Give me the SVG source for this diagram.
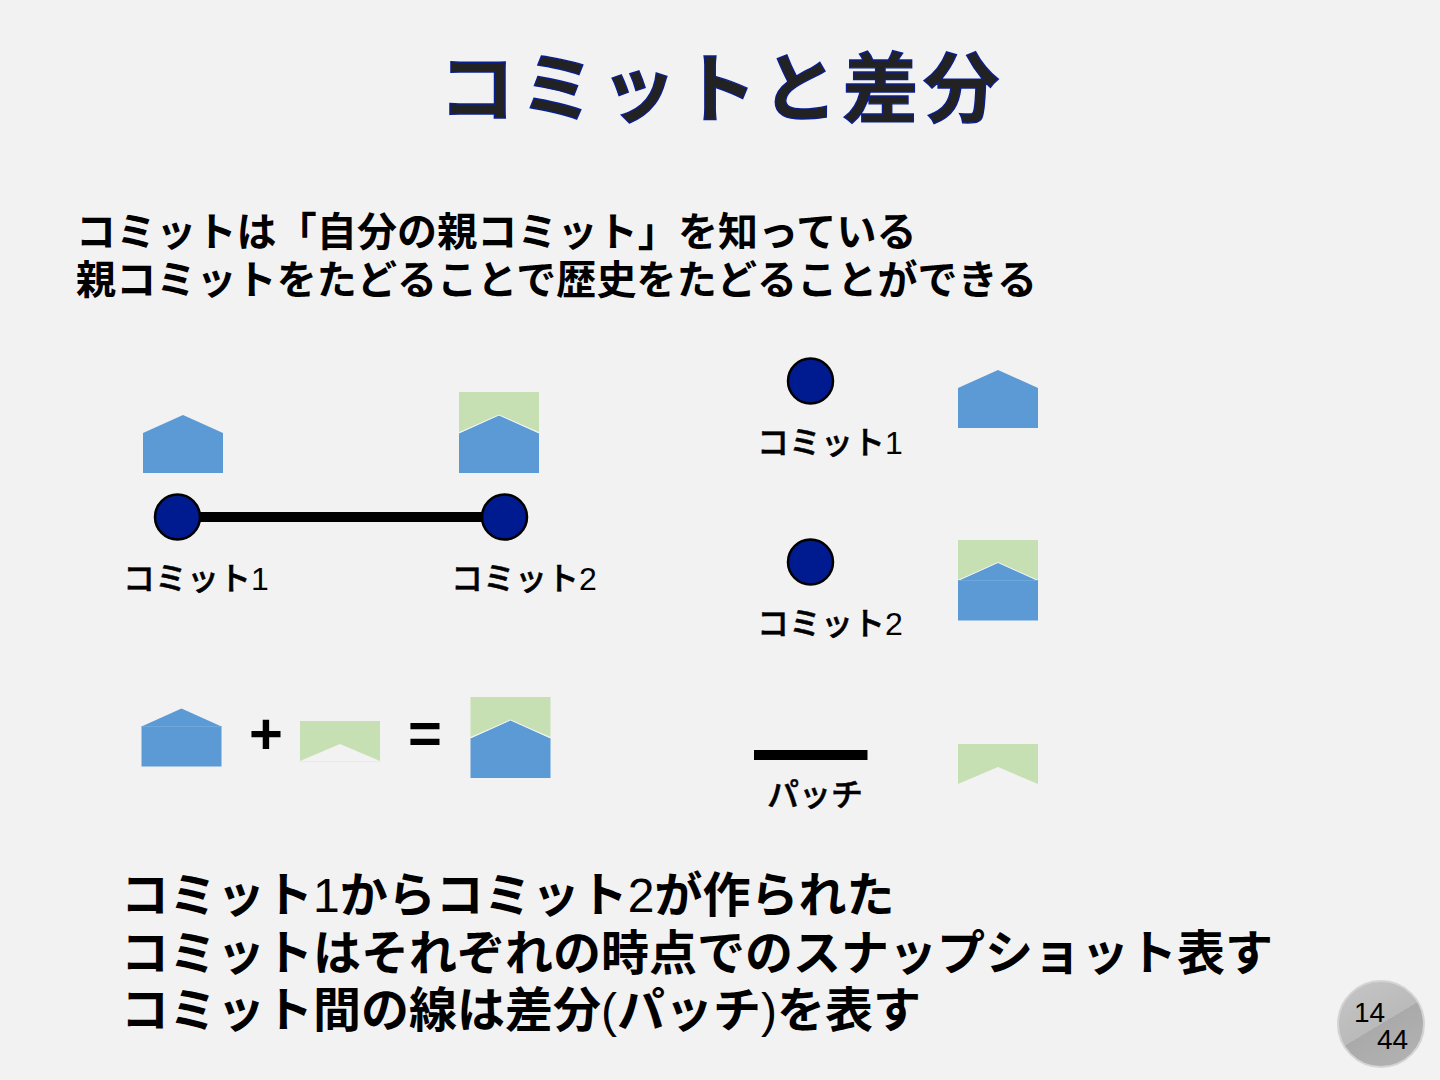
<svg xmlns="http://www.w3.org/2000/svg" width="1440" height="1080" viewBox="0 0 1440 1080">
<style>
text{font-family:"Liberation Sans","Noto Sans CJK JP",sans-serif;fill:#000}
.title{font-size:76px;font-weight:700;fill:#222;stroke:#0a1f8f;stroke-width:1.4px;letter-spacing:4.700px}
.h{font-size:40px;font-weight:700;letter-spacing:.13px}
.b{font-size:48px;font-weight:700}
.l{font-size:32px;font-weight:500;stroke:#000;stroke-width:.5px}
.n{font-weight:400;stroke:none}
.op{font-size:58px;font-weight:700}
.num{font-size:28px}
.blue{fill:#5b9ad5}
.green{fill:#c6e0b4}
.rim{fill:none;stroke:#f4f8f0;stroke-width:1}
.seam{fill:none;stroke:#6ea7dc;stroke-width:1}
.faint{fill:none;stroke:#e8ebe2;stroke-width:1}
.dot{fill:#001a8f;stroke:#000;stroke-width:2.500}
.edge{stroke:#000;stroke-width:10;fill:none}
</style>
<defs>
<linearGradient id="badge" x1="0.2" y1="0" x2="0.8" y2="1">
<stop offset="0" stop-color="#c4c4c4"/><stop offset="0.5" stop-color="#bababa"/><stop offset="0.5" stop-color="#aaaaaa"/><stop offset="1" stop-color="#b2b2b2"/>
</linearGradient>
<polygon id="house" points="0,18 40,0 80,18 80,58 0,58"/>
<polygon id="patch" points="0,0 80,0 80,40 40,23 0,40"/>
<polyline id="roof" points="0,18 40,0 80,18"/>
</defs>
<rect width="1440" height="1080" fill="#f2f2f2"/>
<g id="heading">
<text class="title" x="439" y="116">コミットと差分</text>
<text class="h" x="76" y="246">コミットは「自分の親コミット」を知っている</text>
<text class="h" x="76" y="294">親コミットをたどることで歴史をたどることができる</text>
</g>
<g id="connectors">
<line class="edge" x1="177" y1="517" x2="504" y2="517"/>
<line class="edge" x1="754" y1="755" x2="867.5" y2="755"/>
</g>
<g id="commit1-left">
<circle class="dot" cx="177.500" cy="517" r="22.500"/>
<use href="#house" class="blue" x="143" y="415"/>
<text class="l" x="123" y="590">コミット<tspan class="n">1</tspan></text>
</g>
<g id="commit2-left">
<circle class="dot" cx="504.500" cy="517" r="22.500"/>
<use href="#patch" class="green" x="459" y="392"/>
<use href="#house" class="blue" x="459" y="415"/>
<use href="#roof" class="rim" x="459" y="415"/>
<text class="l" x="451" y="590">コミット<tspan class="n">2</tspan></text>
</g>
<g id="equation">
<use href="#house" class="blue" x="141.500" y="708.500"/>
<line class="seam" x1="141.500" y1="726.500" x2="221.500" y2="726.500"/>
<text class="op" x="249" y="754">+</text>
<use href="#patch" class="green" x="300" y="721"/>
<line class="faint" x1="300" y1="761.500" x2="380" y2="761.500"/>
<text class="op" x="408" y="753">=</text>
<use href="#patch" class="green" x="470.500" y="697"/>
<use href="#house" class="blue" x="470.500" y="720"/>
<use href="#roof" class="rim" x="470.500" y="720"/>
</g>
<g id="commit1-right">
<circle class="dot" cx="810.500" cy="381" r="22.500"/>
<text class="l" x="757" y="454">コミット<tspan class="n">1</tspan></text>
<use href="#house" class="blue" x="958" y="370"/>
</g>
<g id="commit2-right">
<circle class="dot" cx="810.500" cy="562" r="22.500"/>
<text class="l" x="757" y="635">コミット<tspan class="n">2</tspan></text>
<use href="#patch" class="green" x="958" y="540"/>
<use href="#house" class="blue" x="958" y="562.500"/>
<use href="#roof" class="rim" x="958" y="562.500"/>
<line class="seam" x1="958" y1="580.500" x2="1038" y2="580.500"/>
</g>
<g id="patch-right">
<text class="l" x="767" y="806">パッチ</text>
<use href="#patch" class="green" x="958" y="744"/>
</g>
<g id="notes">
<text class="b" x="121" y="912">コミット<tspan class="n">1</tspan>からコミット<tspan class="n">2</tspan>が作られた</text>
<text class="b" x="121" y="970">コミットはそれぞれの時点でのスナップショット表す</text>
<text class="b" x="121" y="1027">コミット間の線は差分<tspan class="n">(</tspan>パッチ<tspan class="n">)</tspan>を表す</text>
</g>
<g id="page-badge">
<circle cx="1381" cy="1024" r="43" fill="url(#badge)" stroke="#d4d4d4" stroke-width="2"/>
<text class="num" x="1354" y="1022">14</text>
<text class="num" x="1377" y="1049">44</text>
</g>
</svg>
